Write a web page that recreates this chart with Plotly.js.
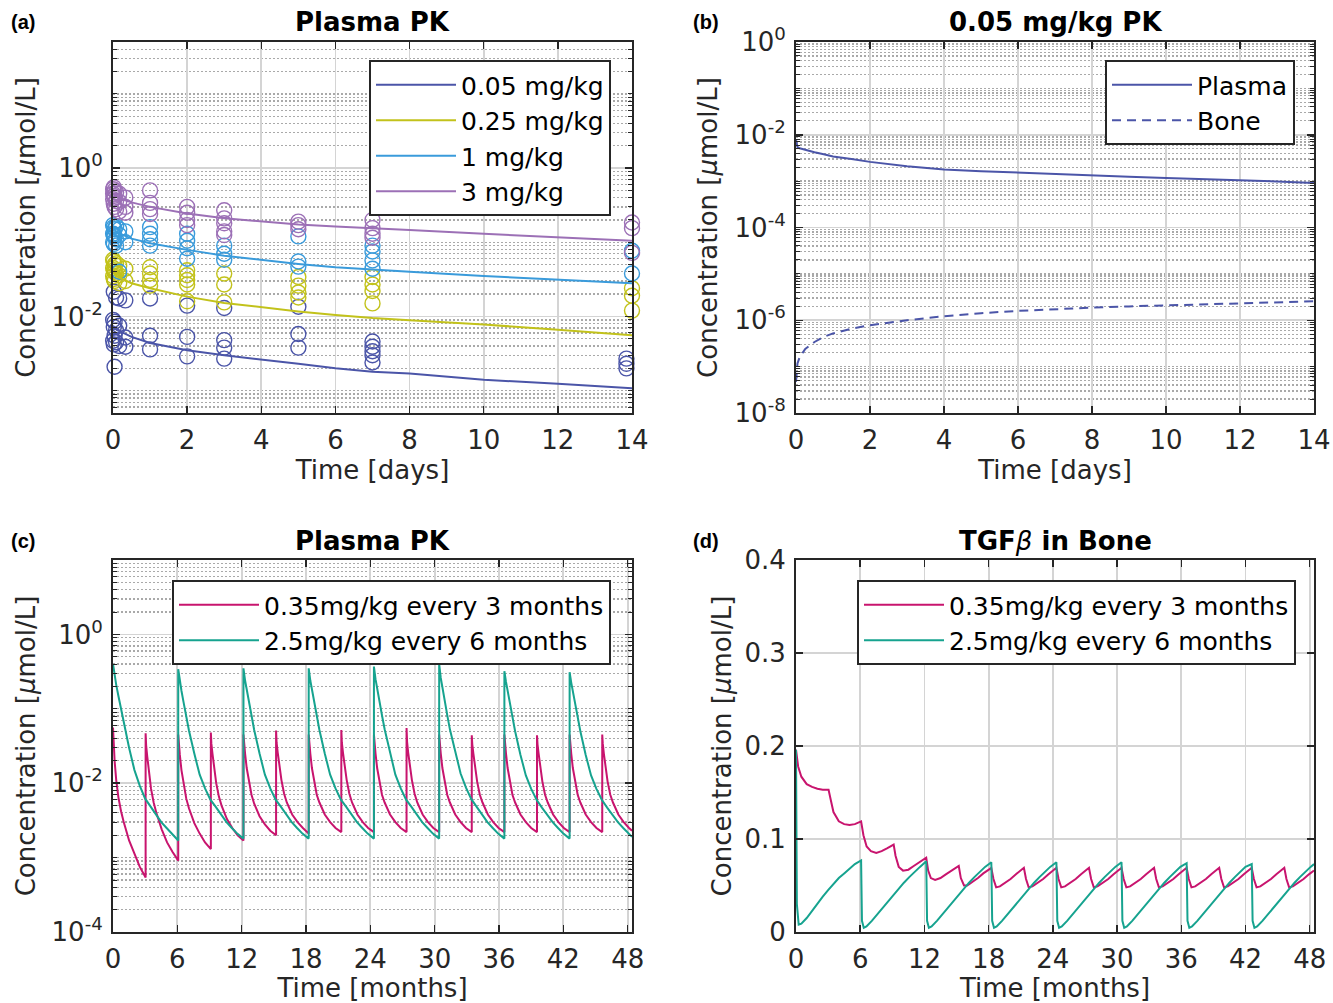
<!DOCTYPE html>
<html>
<head>
<meta charset="utf-8">
<script src="https://cdn.plot.ly/plotly-3.0.1.min.js"></script>
<style>html,body{margin:0;padding:0;background:#fff;}#chart{width:1333px;height:1003px;}</style>
</head>
<body>
<div id="chart"></div>
<script>
// ---------------- DATA ----------------
// (a) Plasma PK, model lines (time in days)
const timeA = [0, 0.1, 0.25, 0.5, 1, 1.5, 2, 3, 4, 5, 6, 7, 8, 10, 12, 14];
const model005 = [0.0075, 0.0066, 0.0061, 0.0053, 0.0044, 0.0039, 0.0035, 0.0030, 0.0026, 0.0023, 0.0020, 0.0018, 0.0017, 0.0014, 0.00124, 0.00108];
const model025 = [0.040, 0.035, 0.032, 0.028, 0.024, 0.021, 0.0185, 0.0152, 0.0133, 0.0117, 0.0105, 0.0095, 0.0089, 0.0078, 0.0066, 0.0056];
const model1 = [0.155, 0.138, 0.127, 0.112, 0.097, 0.087, 0.079, 0.066, 0.058, 0.051, 0.046, 0.0426, 0.040, 0.035, 0.031, 0.028];
const model3 = [0.46, 0.41, 0.38, 0.345, 0.30, 0.27, 0.245, 0.21, 0.19, 0.173, 0.163, 0.155, 0.146, 0.13, 0.117, 0.105];

// (a) observed data (open circles)
const obsT005 = [0.0035,0.0035, 0.021,0.021,0.021, 0.042,0.042,0.042, 0.083,0.083,0.083, 0.167,0.167,0.167, 0.333,0.333,0.333, 1,1,1, 2,2,2, 3,3,3,3, 5,5,5, 7,7,7,7,7, 13.85,13.85,13.85];
const obsC005 = [0.009,0.0047, 0.0215,0.0072,0.0042, 0.0085,0.0055,0.0021, 0.018,0.0065,0.0045, 0.0175,0.0075,0.004, 0.0165,0.0052,0.0039, 0.0175,0.0055,0.0036, 0.014,0.0053,0.0029, 0.013,0.0048,0.0038,0.0027, 0.0135,0.0058,0.0038, 0.0046,0.0039,0.0034,0.003,0.0024, 0.0027,0.0023,0.002];
const obsT025 = [0.0035,0.0035,0.0035, 0.021,0.021,0.021, 0.042,0.042,0.042, 0.083,0.083, 0.167,0.167,0.167, 0.333,0.333, 1,1,1,1, 2,2,2,2,2, 3,3,3, 5,5,5,5, 7,7,7,7, 14,14,14];
const obsC025 = [0.058,0.045,0.035, 0.055,0.042,0.032, 0.05,0.04,0.03, 0.052,0.038, 0.048,0.036,0.028, 0.044,0.03, 0.046,0.038,0.031,0.026, 0.042,0.036,0.031,0.027,0.016, 0.038,0.027,0.0155, 0.034,0.026,0.021,0.018, 0.034,0.027,0.022,0.015, 0.024,0.019,0.012];
const obsT1 = [0.0035,0.0035,0.0035, 0.021,0.021,0.021, 0.042,0.042, 0.083,0.083,0.083, 0.167,0.167,0.167, 0.333,0.333, 1,1,1,1, 2,2,2,2, 3,3,3, 5,5,5, 7,7,7,7, 14,14];
const obsC1 = [0.17,0.13,0.10, 0.16,0.125,0.095, 0.15,0.12, 0.165,0.11,0.09, 0.15,0.125,0.04, 0.14,0.10, 0.16,0.13,0.11,0.09, 0.13,0.105,0.083,0.06, 0.09,0.07,0.058, 0.12,0.055,0.047, 0.09,0.075,0.057,0.044, 0.077,0.038];
const obsT3 = [0.0035,0.0035,0.0035, 0.021,0.021,0.021, 0.042,0.042,0.042, 0.083,0.083,0.083, 0.167,0.167,0.167, 0.333,0.333,0.333, 1,1,1,1, 2,2,2,2, 3,3,3,3,3, 5,5,5, 7,7,7,7, 14,14,14];
const obsC3 = [0.52,0.45,0.38, 0.55,0.42,0.33, 0.50,0.40,0.30, 0.47,0.36,0.28, 0.45,0.35,0.26, 0.40,0.30,0.25, 0.50,0.34,0.28,0.24, 0.30,0.25,0.20,0.17, 0.27,0.21,0.18,0.14,0.125, 0.19,0.17,0.15, 0.20,0.155,0.13,0.115, 0.185,0.155,0.072];

// (b) 0.05 mg/kg PK
const timeB = [0, 0.04, 0.1, 0.25, 0.5, 0.75, 1, 1.5, 2, 3, 4, 5, 6, 7, 8, 9, 10, 11, 12, 13, 14];
const plasmaB = [0.0078, 0.0054, 0.0051, 0.0047, 0.0042, 0.0038, 0.0034, 0.0030, 0.0026, 0.0021, 0.00179, 0.00164, 0.00152, 0.00143, 0.00134, 0.00125, 0.00117, 0.00111, 0.00105, 0.00098, 0.00091];
const boneB = [4.7e-8, 1.17e-7, 1.6e-7, 2.4e-7, 3.4e-7, 4.4e-7, 5.2e-7, 6.6e-7, 7.8e-7, 1.0e-6, 1.22e-6, 1.42e-6, 1.59e-6, 1.74e-6, 1.87e-6, 1.99e-6, 2.1e-6, 2.19e-6, 2.28e-6, 2.42e-6, 2.56e-6];

// (c) Plasma PK, repeated dosing (time in months)
const timeTealC = [
0, 0.15, 0.3, 0.5, 0.75, 1, 1.5, 2, 2.5, 3, 3.5, 4, 4.5, 5, 5.5,
6.083, 6.083, 6.233, 6.383, 6.583, 6.833, 7.083, 7.583, 8.083, 8.583, 9.083, 9.583, 10.083, 10.583, 11.083, 11.583,
12.167, 12.167, 12.317, 12.467, 12.667, 12.917, 13.167, 13.667, 14.167, 14.667, 15.167, 15.667, 16.167, 16.667, 17.167, 17.667,
18.25, 18.25, 18.4, 18.55, 18.75, 19, 19.25, 19.75, 20.25, 20.75, 21.25, 21.75, 22.25, 22.75, 23.25, 23.75,
24.333, 24.333, 24.483, 24.633, 24.833, 25.083, 25.333, 25.833, 26.333, 26.833, 27.333, 27.833, 28.333, 28.833, 29.333, 29.833,
30.417, 30.417, 30.567, 30.717, 30.917, 31.167, 31.417, 31.917, 32.417, 32.917, 33.417, 33.917, 34.417, 34.917, 35.417, 35.917,
36.5, 36.5, 36.65, 36.8, 37, 37.25, 37.5, 38, 38.5, 39, 39.5, 40, 40.5, 41, 41.5, 42,
42.583, 42.583, 42.733, 42.883, 43.083, 43.333, 43.583, 44.083, 44.583, 45.083, 45.583, 46.083, 46.583, 47.083, 47.583, 48.083, 48.4];
const concTealC = [
0.40, 0.28, 0.21, 0.15, 0.10, 0.065, 0.03, 0.015, 0.0092, 0.0062, 0.0048, 0.0038, 0.003, 0.0025, 0.0021,
0.0017, 0.34, 0.235, 0.175, 0.122, 0.079, 0.051, 0.025, 0.013, 0.0085, 0.006, 0.0048, 0.0038, 0.003, 0.0025, 0.0021,
0.0018, 0.35, 0.24, 0.18, 0.125, 0.08, 0.052, 0.025, 0.013, 0.0085, 0.006, 0.0048, 0.0038, 0.003, 0.0025, 0.0021,
0.0018, 0.35, 0.24, 0.18, 0.125, 0.08, 0.052, 0.025, 0.013, 0.0085, 0.006, 0.0048, 0.0038, 0.003, 0.0025, 0.0021,
0.0018, 0.37, 0.25, 0.185, 0.128, 0.082, 0.053, 0.025, 0.013, 0.0085, 0.006, 0.0048, 0.0038, 0.003, 0.0025, 0.0021,
0.0018, 0.40, 0.26, 0.19, 0.13, 0.083, 0.053, 0.026, 0.0135, 0.0087, 0.0061, 0.0048, 0.0038, 0.003, 0.0025, 0.0021,
0.0018, 0.32, 0.23, 0.172, 0.12, 0.078, 0.05, 0.024, 0.0127, 0.0084, 0.006, 0.0047, 0.0037, 0.003, 0.0025, 0.0021,
0.0018, 0.31, 0.225, 0.17, 0.12, 0.077, 0.05, 0.024, 0.0127, 0.0084, 0.006, 0.0047, 0.0037, 0.003, 0.0025, 0.0021, 0.0019];
const timeMagC = [
0, 0.05, 0.15, 0.3, 0.5, 0.75, 1, 1.5, 2, 2.5,
3.042, 3.042, 3.092, 3.192, 3.342, 3.542, 3.792, 4.042, 4.542, 5.042, 5.542,
6.083, 6.083, 6.133, 6.233, 6.383, 6.583, 6.833, 7.083, 7.583, 8.083, 8.583,
9.125, 9.125, 9.175, 9.275, 9.425, 9.625, 9.875, 10.125, 10.625, 11.125, 11.625,
12.167, 12.167, 12.217, 12.317, 12.467, 12.667, 12.917, 13.167, 13.667, 14.167, 14.667,
15.208, 15.208, 15.258, 15.358, 15.508, 15.708, 15.958, 16.208, 16.708, 17.208, 17.708,
18.25, 18.25, 18.3, 18.4, 18.55, 18.75, 19, 19.25, 19.75, 20.25, 20.75,
21.292, 21.292, 21.342, 21.442, 21.592, 21.792, 22.042, 22.292, 22.792, 23.292, 23.792,
24.333, 24.333, 24.383, 24.483, 24.633, 24.833, 25.083, 25.333, 25.833, 26.333, 26.833,
27.375, 27.375, 27.425, 27.525, 27.675, 27.875, 28.125, 28.375, 28.875, 29.375, 29.875,
30.417, 30.417, 30.467, 30.567, 30.717, 30.917, 31.167, 31.417, 31.917, 32.417, 32.917,
33.458, 33.458, 33.508, 33.608, 33.758, 33.958, 34.208, 34.458, 34.958, 35.458, 35.958,
36.5, 36.5, 36.55, 36.65, 36.8, 37, 37.25, 37.5, 38, 38.5, 39,
39.542, 39.542, 39.592, 39.692, 39.842, 40.042, 40.292, 40.542, 41.042, 41.542, 42.042,
42.583, 42.583, 42.633, 42.733, 42.883, 43.083, 43.333, 43.583, 44.083, 44.583, 45.083,
45.625, 45.625, 45.675, 45.775, 45.925, 46.125, 46.375, 46.625, 47.125, 47.625, 48.125, 48.4];
const concMagC = [
0.056, 0.03, 0.02, 0.011, 0.0065, 0.0042, 0.003, 0.0017, 0.0011, 0.00075,
0.00054, 0.047, 0.032, 0.023, 0.014, 0.0085, 0.0055, 0.004, 0.0024, 0.0016, 0.0012,
0.00091, 0.045, 0.033, 0.024, 0.015, 0.0095, 0.0062, 0.0046, 0.0029, 0.0021, 0.0016,
0.0013, 0.048, 0.034, 0.025, 0.016, 0.010, 0.0066, 0.005, 0.0033, 0.0025, 0.002,
0.0017, 0.045, 0.034, 0.025, 0.016, 0.0105, 0.007, 0.0053, 0.0036, 0.0028, 0.0023,
0.0020, 0.051, 0.035, 0.026, 0.017, 0.011, 0.0072, 0.0055, 0.0038, 0.003, 0.0025,
0.0021, 0.045, 0.034, 0.025, 0.016, 0.0105, 0.007, 0.0055, 0.0038, 0.003, 0.0025,
0.0022, 0.052, 0.035, 0.026, 0.017, 0.011, 0.0072, 0.0055, 0.0038, 0.003, 0.0025,
0.0022, 0.045, 0.034, 0.025, 0.016, 0.0105, 0.007, 0.0055, 0.0038, 0.003, 0.0025,
0.0022, 0.055, 0.036, 0.026, 0.017, 0.011, 0.0072, 0.0055, 0.0038, 0.003, 0.0025,
0.0022, 0.045, 0.034, 0.025, 0.016, 0.0105, 0.007, 0.0055, 0.0038, 0.003, 0.0025,
0.0022, 0.044, 0.033, 0.025, 0.016, 0.0105, 0.007, 0.0055, 0.0038, 0.003, 0.0025,
0.0022, 0.045, 0.034, 0.025, 0.016, 0.0105, 0.007, 0.0055, 0.0038, 0.003, 0.0025,
0.0022, 0.044, 0.033, 0.025, 0.016, 0.0105, 0.007, 0.0055, 0.0038, 0.003, 0.0025,
0.0022, 0.045, 0.034, 0.025, 0.016, 0.0105, 0.007, 0.0055, 0.0038, 0.003, 0.0025,
0.0022, 0.045, 0.034, 0.025, 0.016, 0.0105, 0.007, 0.0055, 0.0038, 0.003, 0.0025, 0.0023];

// (d) TGF-beta in bone (time in months)
const timeTealD = [
0, 0.08, 0.25, 0.5, 1, 1.5, 2, 2.5, 3, 3.5, 4, 4.5, 5, 5.5,
6.083, 6.163, 6.333, 6.583, 7.083, 7.583, 8.083, 8.583, 9.083, 9.583, 10.083, 10.583, 11.083, 11.583,
12.167, 12.247, 12.417, 12.667, 13.167, 13.667, 14.167, 14.667, 15.167, 15.667, 16.167, 16.667, 17.167, 17.667,
18.25, 18.33, 18.5, 18.75, 19.25, 19.75, 20.25, 20.75, 21.25, 21.75, 22.25, 22.75, 23.25, 23.75,
24.333, 24.413, 24.583, 24.833, 25.333, 25.833, 26.333, 26.833, 27.333, 27.833, 28.333, 28.833, 29.333, 29.833,
30.417, 30.497, 30.667, 30.917, 31.417, 31.917, 32.417, 32.917, 33.417, 33.917, 34.417, 34.917, 35.417, 35.917,
36.5, 36.58, 36.75, 37, 37.5, 38, 38.5, 39, 39.5, 40, 40.5, 41, 41.5, 42,
42.583, 42.663, 42.833, 43.083, 43.583, 44.083, 44.583, 45.083, 45.583, 46.083, 46.583, 47.083, 47.583, 48.083, 48.4];
const concTealD = [
0.196, 0.03, 0.008, 0.009, 0.015, 0.023, 0.030, 0.038, 0.045, 0.052, 0.058, 0.063, 0.068, 0.073,
0.077, 0.012, 0.0045, 0.006, 0.012, 0.019, 0.026, 0.033, 0.040, 0.047, 0.053, 0.059, 0.065, 0.070,
0.076, 0.012, 0.0045, 0.006, 0.012, 0.019, 0.026, 0.033, 0.040, 0.047, 0.053, 0.059, 0.065, 0.070,
0.075, 0.012, 0.0045, 0.006, 0.012, 0.019, 0.026, 0.033, 0.040, 0.047, 0.053, 0.059, 0.065, 0.070,
0.075, 0.012, 0.0045, 0.006, 0.012, 0.019, 0.026, 0.033, 0.040, 0.047, 0.053, 0.059, 0.065, 0.070,
0.075, 0.012, 0.0045, 0.006, 0.012, 0.019, 0.026, 0.033, 0.040, 0.047, 0.053, 0.059, 0.065, 0.070,
0.074, 0.012, 0.0045, 0.006, 0.012, 0.019, 0.026, 0.033, 0.040, 0.047, 0.053, 0.059, 0.065, 0.070,
0.073, 0.012, 0.0045, 0.006, 0.012, 0.019, 0.026, 0.033, 0.040, 0.047, 0.053, 0.059, 0.065, 0.070, 0.073];
const timeMagD = [
0, 0.2, 0.5, 1, 1.5, 2, 2.5,
3.042, 3.25, 3.5, 4, 4.5, 5, 5.5,
6.083, 6.3, 6.6, 7, 7.5, 8, 8.5,
9.125, 9.3, 9.6, 10, 10.5, 11, 11.5,
12.167, 12.35, 12.6, 13, 13.5, 14, 14.5,
15.208, 15.4, 15.7, 16, 16.5, 17, 17.5,
18.25, 18.45, 18.7, 19.05, 19.55, 20.05, 20.55,
21.292, 21.492, 21.742, 22.092, 22.592, 23.092, 23.592,
24.333, 24.533, 24.783, 25.133, 25.633, 26.133, 26.633,
27.375, 27.575, 27.825, 28.175, 28.675, 29.175, 29.675,
30.417, 30.617, 30.867, 31.217, 31.717, 32.217, 32.717,
33.458, 33.658, 33.908, 34.258, 34.758, 35.258, 35.758,
36.5, 36.7, 36.95, 37.3, 37.8, 38.3, 38.8,
39.542, 39.742, 39.992, 40.342, 40.842, 41.342, 41.842,
42.583, 42.783, 43.033, 43.383, 43.883, 44.383, 44.883,
45.625, 45.825, 46.075, 46.425, 46.925, 47.425, 47.925, 48.4];
const concMagD = [
0.196, 0.178, 0.167, 0.159, 0.156, 0.154, 0.153,
0.153, 0.142, 0.129, 0.119, 0.116, 0.115, 0.116,
0.119, 0.104, 0.092, 0.087, 0.085, 0.087, 0.090,
0.094, 0.082, 0.070, 0.066, 0.067, 0.071, 0.075,
0.080, 0.066, 0.058, 0.056, 0.058, 0.062, 0.066,
0.071, 0.058, 0.050, 0.050, 0.054, 0.058, 0.063,
0.069, 0.057, 0.048, 0.049, 0.053, 0.057, 0.062,
0.069, 0.057, 0.048, 0.049, 0.053, 0.057, 0.062,
0.069, 0.057, 0.048, 0.049, 0.053, 0.057, 0.062,
0.069, 0.057, 0.048, 0.049, 0.053, 0.057, 0.062,
0.069, 0.057, 0.048, 0.049, 0.053, 0.057, 0.062,
0.069, 0.057, 0.048, 0.049, 0.053, 0.057, 0.062,
0.069, 0.057, 0.048, 0.049, 0.053, 0.057, 0.062,
0.069, 0.057, 0.048, 0.049, 0.053, 0.057, 0.062,
0.069, 0.057, 0.048, 0.049, 0.053, 0.057, 0.062,
0.069, 0.057, 0.048, 0.049, 0.053, 0.057, 0.062, 0.066];

// Labels
const doseNamesA = ['0.05 mg/kg', '0.25 mg/kg', '1 mg/kg', '3 mg/kg'];
const seriesNamesB = ['Plasma', 'Bone'];
const regimenNames = ['0.35mg/kg every 3 months', '2.5mg/kg every 6 months'];
const panelTitles = ['<b>Plasma PK</b>', '<b>0.05 mg/kg PK</b>', '<b>Plasma PK</b>', '<b>TGF</b><i>β</i><b> in Bone</b>'];
const panelLetters = ['(a)', '(b)', '(c)', '(d)'];
const dayTicks = [0, 2, 4, 6, 8, 10, 12, 14];
const monthTicks = [0, 6, 12, 18, 24, 30, 36, 42, 48];
const logTickValsA = [0.01, 1];
const logTickTextA = ['10<sup>-2</sup>', '10<sup>0</sup>'];
const logTickValsB = [1e-8, 1e-6, 1e-4, 1e-2, 1];
const logTickTextB = ['10<sup>-8</sup>', '10<sup>-6</sup>', '10<sup>-4</sup>', '10<sup>-2</sup>', '10<sup>0</sup>'];
const logTickValsC = [1e-4, 1e-2, 1];
const logTickTextC = ['10<sup>-4</sup>', '10<sup>-2</sup>', '10<sup>0</sup>'];

// ---------------- STYLE ----------------
const FONT = 'DejaVu Sans';
const INK = '#262626';
const colDark = '#4B55A8', colYel = '#C2C21B', colBlue = '#3A9BDB', colPurp = '#9C70B6';
const colMag = '#C8146E', colTeal = '#16A38F';
const W = 1333, H = 1003;
const px = v => v / W, py = v => 1 - v / H;

function logMinor(lo, hi, majors) {
  const out = [];
  for (let k = lo; k <= hi; k++) {
    for (let m = 1; m <= 9; m++) {
      if (m === 1 && majors.includes(k)) continue;
      out.push(m * Math.pow(10, k));
    }
  }
  return out;
}

function axis(extra) {
  return Object.assign({
    showline: true, linecolor: INK, linewidth: 2, mirror: 'allticks',
    ticks: 'inside', ticklen: 7, tickwidth: 1.5, tickcolor: INK,
    showgrid: true, gridcolor: '#d4d4d4', gridwidth: 1.8,
    zeroline: false, automargin: false, fixedrange: true,
    tickfont: {family: FONT, size: 26, color: INK},
    ticklabelstandoff: 3
  }, extra);
}
function minorLog(vals) {
  return {tickmode: 'array', tickvals: vals, ticks: 'inside', ticklen: 4, tickwidth: 1, tickcolor: INK,
          showgrid: true, gridcolor: '#a9a9a9', gridwidth: 1.3, griddash: '2px,2px'};
}
const ttl = (t, s) => ({text: t, font: {family: FONT, size: 26, color: INK}, standoff: s});
const yTitle = 'Concentration [<i>μ</i>mol/L]';

const xDomL = [px(113), px(632)], xDomR = [px(796), px(1314)];
const yDomT = [py(413), py(42)], yDomB = [py(932), py(560)];

// ---------------- TRACES ----------------
const traces = [];
const obsSets = [[obsT005, obsC005, colDark], [obsT025, obsC025, colYel], [obsT1, obsC1, colBlue], [obsT3, obsC3, colPurp]];
obsSets.forEach(s => traces.push({
  x: s[0], y: s[1], xaxis: 'x', yaxis: 'y', type: 'scatter', mode: 'markers', showlegend: false,
  cliponaxis: false, marker: {symbol: 'circle-open', size: 15, color: s[2], line: {width: 1.4, color: s[2]}}
}));
const modelSets = [model005, model025, model1, model3];
const modelCols = [colDark, colYel, colBlue, colPurp];
modelSets.forEach((m, i) => traces.push({
  x: timeA, y: m, xaxis: 'x', yaxis: 'y', type: 'scatter', mode: 'lines', name: doseNamesA[i],
  legend: 'legend', line: {color: modelCols[i], width: 2}
}));
traces.push({x: timeB, y: plasmaB, xaxis: 'x2', yaxis: 'y2', mode: 'lines', name: seriesNamesB[0], legend: 'legend2',
  line: {color: colDark, width: 2}});
traces.push({x: timeB, y: boneB, xaxis: 'x2', yaxis: 'y2', mode: 'lines', name: seriesNamesB[1], legend: 'legend2',
  line: {color: colDark, width: 2, dash: '9px,6px'}});
traces.push({x: timeMagC, y: concMagC, xaxis: 'x3', yaxis: 'y3', mode: 'lines', name: regimenNames[0], legend: 'legend3',
  line: {color: colMag, width: 2}});
traces.push({x: timeTealC, y: concTealC, xaxis: 'x3', yaxis: 'y3', mode: 'lines', name: regimenNames[1], legend: 'legend3',
  line: {color: colTeal, width: 2}});
traces.push({x: timeMagD, y: concMagD, xaxis: 'x4', yaxis: 'y4', mode: 'lines', name: regimenNames[0], legend: 'legend4',
  line: {color: colMag, width: 2}});
traces.push({x: timeTealD, y: concTealD, xaxis: 'x4', yaxis: 'y4', mode: 'lines', name: regimenNames[1], legend: 'legend4',
  line: {color: colTeal, width: 2}});

// ---------------- LAYOUT ----------------
function legendAt(right, top) {
  return {x: px(right), xanchor: 'right', y: py(top), yanchor: 'top', bgcolor: '#ffffff',
    bordercolor: INK, borderwidth: 2, itemwidth: 80, tracegroupgap: 0,
    font: {family: FONT, size: 25, color: '#000'}, traceorder: 'normal'};
}

const annotations = [];
const titleX = [372, 1055, 372, 1055], titleY = [22, 22, 541, 541];
const letterX = [9, 691, 9, 691];
panelTitles.forEach((t, i) => {
  annotations.push({text: t, x: px(titleX[i]), y: py(titleY[i]), xref: 'paper', yref: 'paper',
    xanchor: 'center', yanchor: 'middle', showarrow: false, font: {family: FONT, size: 26, color: '#000'}});
  annotations.push({text: '<b>' + panelLetters[i] + '</b>', x: px(letterX[i]), y: py(titleY[i]), xref: 'paper', yref: 'paper',
    xanchor: 'left', yanchor: 'middle', showarrow: false, font: {family: 'Liberation Sans', size: 20, color: '#000'}});
});

const layout = {
  width: W, height: H, margin: {l: 0, r: 0, t: 0, b: 0},
  paper_bgcolor: '#ffffff', plot_bgcolor: '#ffffff',
  font: {family: FONT, color: INK}, showlegend: true,
  xaxis: axis({domain: xDomL, anchor: 'y', range: [0, 14], tickmode: 'array', tickvals: dayTicks, title: ttl('Time [days]', 6)}),
  yaxis: axis({domain: yDomT, anchor: 'x', type: 'log', range: [Math.log10(5e-4), Math.log10(50)], tickmode: 'array',
    tickvals: logTickValsA, ticktext: logTickTextA, minor: minorLog(logMinor(-4, 1, [0, -2])), title: ttl(yTitle, 8)}),
  xaxis2: axis({domain: xDomR, anchor: 'y2', range: [0, 14], tickmode: 'array', tickvals: dayTicks, title: ttl('Time [days]', 6)}),
  yaxis2: axis({domain: yDomT, anchor: 'x2', type: 'log', range: [-8, 0], tickmode: 'array',
    tickvals: logTickValsB, ticktext: logTickTextB, minor: minorLog(logMinor(-8, -1, [0, -2, -4, -6, -8])), title: ttl(yTitle, 9)}),
  xaxis3: axis({domain: xDomL, anchor: 'y3', range: [0, 48.4], tickmode: 'array', tickvals: monthTicks, title: ttl('Time [months]', 10)}),
  yaxis3: axis({domain: yDomB, anchor: 'x3', type: 'log', range: [-4, 1], tickmode: 'array',
    tickvals: logTickValsC, ticktext: logTickTextC, minor: minorLog(logMinor(-4, 0, [0, -2, -4])), title: ttl(yTitle, 8)}),
  xaxis4: axis({domain: xDomR, anchor: 'y4', range: [0, 48.4], tickmode: 'array', tickvals: monthTicks, title: ttl('Time [months]', 10)}),
  yaxis4: axis({domain: yDomB, anchor: 'x4', range: [0, 0.4], tickmode: 'linear', tick0: 0, dtick: 0.1, title: ttl(yTitle, 5)}),
  legend: legendAt(611, 60),
  legend2: legendAt(1295, 60),
  legend3: legendAt(611, 580),
  legend4: legendAt(1296, 580),
  annotations: annotations
};

Plotly.newPlot('chart', traces, layout, {displayModeBar: false, staticPlot: true});
</script>
</body>
</html>
